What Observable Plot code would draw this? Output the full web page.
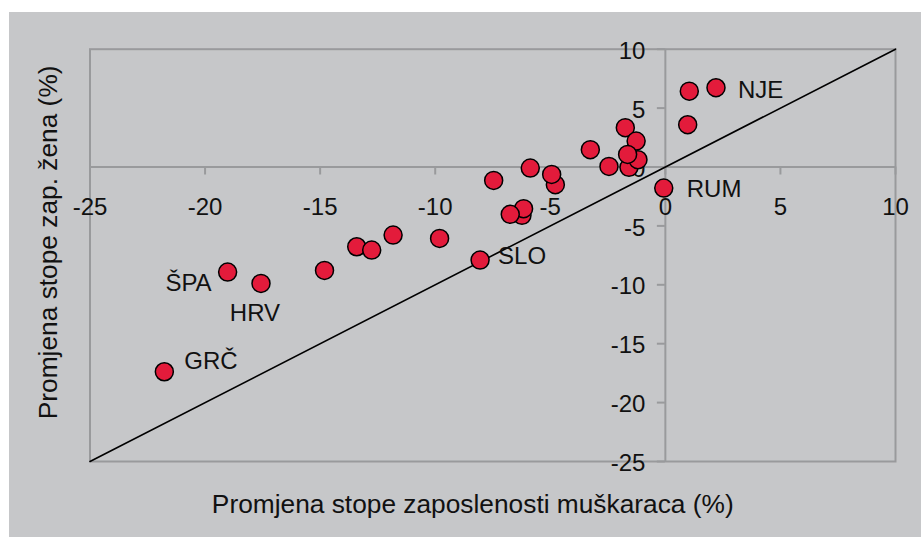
<!DOCTYPE html>
<html>
<head>
<meta charset="utf-8">
<script src="https://cdn.jsdelivr.net/npm/d3@7"></script>
<script src="https://cdn.jsdelivr.net/npm/@observablehq/plot@0.6"></script>
<style>
  html, body { margin: 0; padding: 0; background: #ffffff; }
  #chart { padding-left: 9px; padding-top: 12px; }
  #chart svg { display: block; }
</style>
</head>
<body>
<div id="chart"></div>
<script>
// --- data ---
const countries = ["GRČ","ŠPA","HRV","","","","","","","SLO","","","","","","","","","","","","","","RUM","","","NJE"];
const menChange = [-21.77,-19.02,-17.57,-14.81,-13.41,-12.76,-11.83,-9.81,-7.46,-8.05,-6.23,-6.16,-6.74,-5.87,-4.78,-4.94,-3.26,-2.45,-1.58,-1.19,-1.74,-1.27,-1.64,-0.07,0.97,1.04,2.2];
const womenChange = [-17.38,-8.92,-9.88,-8.78,-6.77,-7.05,-5.78,-6.06,-1.14,-7.9,-4.1,-3.54,-4.02,-0.09,-1.5,-0.63,1.47,0.05,-0.03,0.62,3.34,2.2,1.07,-1.79,3.59,6.44,6.73];
const xTicks = [-25,-20,-15,-10,-5,0,5,10];
const yTicks = [-25,-20,-15,-10,-5,0,5,10];
const diagonal = [-25, 10];
const xTitle = "Promjena stope zaposlenosti muškaraca (%)";
const yTitle = "Promjena stope zap. žena (%)";

const points = menChange.map((x, i) => ({x, y: womenChange[i], name: countries[i]}));

// --- styles ---
const axisGray = "#999a9c";
const labelOffsets = {
  "NJE": {dx: 22, dy: 3, textAnchor: "start"},
  "RUM": {dx: 23, dy: 1, textAnchor: "start"},
  "SLO": {dx: 18, dy: -4, textAnchor: "start"},
  "ŠPA": {dx: -16, dy: 11, textAnchor: "end"},
  "HRV": {dx: -6, dy: 30, textAnchor: "middle"},
  "GRČ": {dx: 20, dy: -10, textAnchor: "start"}
};

const labelMarks = Object.entries(labelOffsets).map(([name, o]) =>
  Plot.text(points.filter(d => d.name === name), {
    x: "x", y: "y", text: "name", fontSize: 24, fill: "#111", ...o
  })
);

const chart = Plot.plot({
  width: 912,
  height: 525,
  marginLeft: 80.5,
  marginRight: 26,
  marginTop: 36.7,
  marginBottom: 76,
  x: {domain: [-25, 10], axis: null},
  y: {domain: [-25, 10], axis: null},
  style: {background: "#c6c7c9", fontFamily: "'Liberation Sans', Arial, sans-serif", fontSize: "24px", color: "#111"},
  marks: [
    Plot.frame({stroke: axisGray, strokeWidth: 2}),
    Plot.ruleY([0], {stroke: axisGray, strokeWidth: 2}),
    Plot.ruleX([0], {stroke: axisGray, strokeWidth: 2}),
    Plot.ruleX(xTicks, {x: d => d, y1: () => 0, y2: () => 0, insetBottom: -8, stroke: axisGray, strokeWidth: 2}),
    Plot.ruleY(yTicks, {y: d => d, x1: () => 0, x2: () => 0, insetLeft: -8, stroke: axisGray, strokeWidth: 2}),
    Plot.text(xTicks, {x: d => d, y: () => 0, dy: 40, text: d => String(d), fontSize: 24, fill: "#111"}),
    Plot.text(yTicks, {x: () => 0, y: d => d, dx: -20, dy: 2, text: d => String(d), textAnchor: "end", fontSize: 24, fill: "#111"}),
    Plot.line(diagonal, {x: d => d, y: d => d, stroke: "#000", strokeWidth: 1.6}),
    Plot.dot(points, {x: "x", y: "y", r: 9, fill: "#e31b3b", stroke: "#000", strokeWidth: 1.5}),
    ...labelMarks,
    Plot.text([xTitle], {frameAnchor: "bottom", dx: -20, dy: 51, text: d => d, fontSize: 26.3, fill: "#111"}),
    Plot.text([yTitle], {frameAnchor: "left", textAnchor: "middle", dx: -41.5, dy: -13, rotate: -90, text: d => d, fontSize: 26.3, fill: "#111"})
  ]
});
document.getElementById("chart").append(chart);
</script>
</body>
</html>
